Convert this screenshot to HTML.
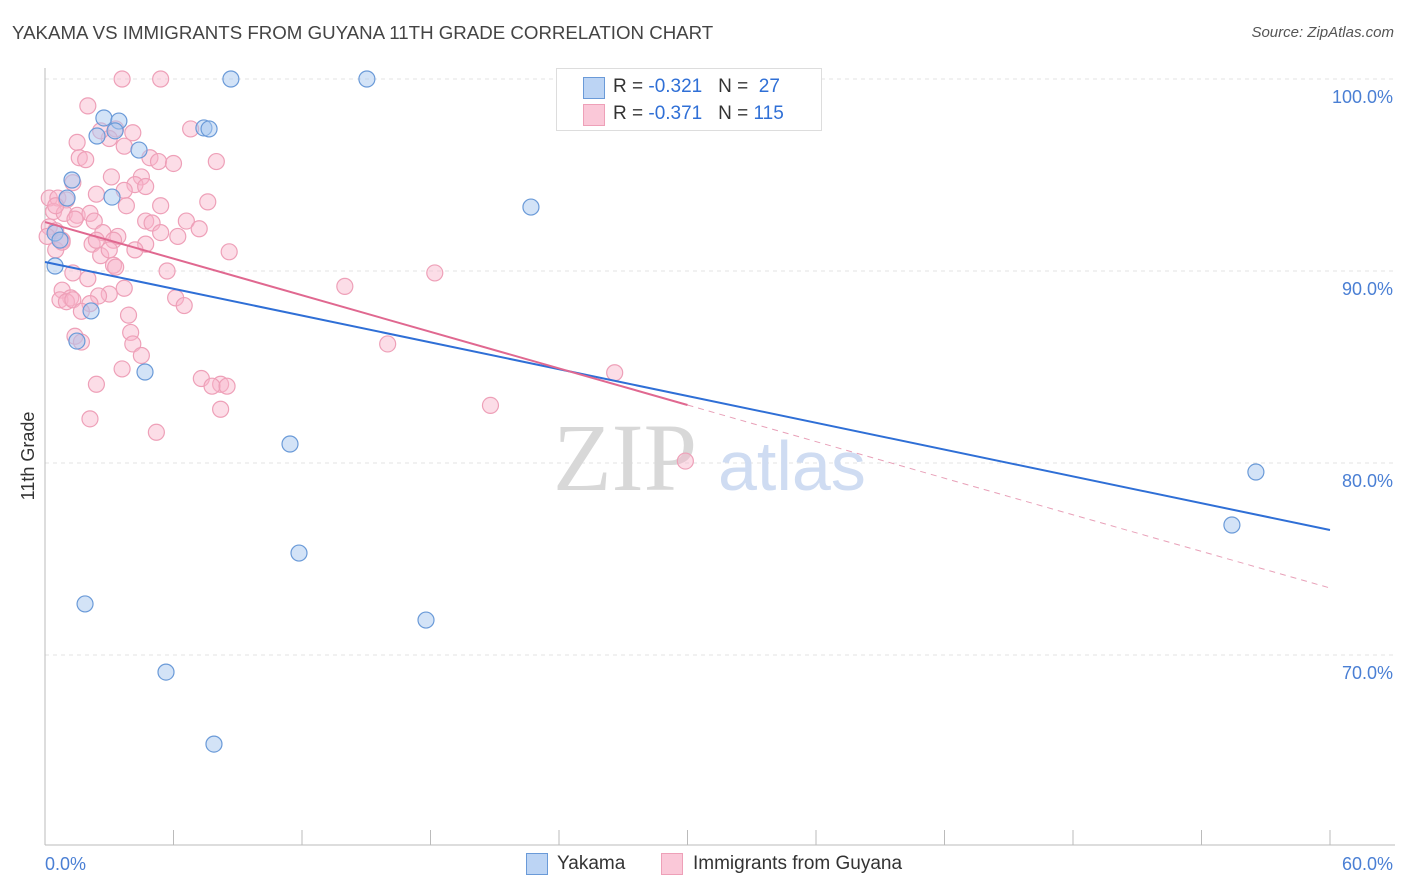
<!DOCTYPE html>
<html><head><meta charset="utf-8"><style>
body{margin:0;background:#fff;font-family:"Liberation Sans",sans-serif;}
#wrap{position:relative;width:1406px;height:892px;overflow:hidden;}
.t{position:absolute;white-space:nowrap;}
</style></head><body>
<div id="wrap">
<div class="t" style="left:12px;top:22px;font-size:18.7px;color:#444;">YAKAMA VS IMMIGRANTS FROM GUYANA 11TH GRADE CORRELATION CHART</div>
<div class="t" style="right:12px;top:24px;font-size:15px;color:#555;font-style:italic;">Source: ZipAtlas.com</div>
<svg id="svg" width="1406" height="892" style="position:absolute;left:0;top:0"></svg>
</div>
<script>
const yakamaX=[8.68,15.03,2.75,3.45,2.43,7.42,7.66,4.39,1.26,3.13,1.03,22.69,0.47,0.70,0.47,2.15,1.49,4.67,11.44,56.54,55.42,11.86,1.87,17.79,5.65,7.89,3.27];
const yakamaY=[100,100,97.97,97.81,97.03,97.45,97.40,96.30,94.74,93.85,93.80,93.33,91.98,91.61,90.26,87.92,86.35,84.74,80.99,79.53,76.77,75.31,72.66,71.82,69.11,65.36,97.3];
const guyanaX=[3.6,5.4,2.0,3.3,4.1,6.8,1.5,3.0,3.7,1.6,1.9,4.9,5.3,6.0,8.0,3.1,4.5,1.3,4.2,4.7,3.7,2.4,0.2,0.6,1.0,3.8,5.4,7.6,0.4,0.9,1.5,2.1,1.4,2.3,4.7,5.0,6.6,7.2,0.2,0.5,2.7,3.4,5.4,6.2,0.1,0.8,2.2,3.2,4.7,0.5,2.6,4.2,3.0,8.6,3.2,3.3,5.7,18.2,1.3,2.0,14.0,0.8,3.7,3.0,1.2,2.5,0.7,1.0,1.3,6.1,6.5,2.1,1.7,3.9,4.0,1.4,1.7,4.1,16.0,4.5,26.6,3.6,7.3,8.2,7.8,8.5,2.4,20.8,8.2,2.1,5.2,29.9,2.4,0.8,0.5,2.6];
const guyanaY=[100,100,98.6,97.4,97.2,97.4,96.7,96.9,96.5,95.9,95.8,95.9,95.7,95.6,95.7,94.9,94.9,94.6,94.5,94.4,94.2,94.0,93.8,93.8,93.7,93.4,93.4,93.6,93.1,93.0,92.9,93.0,92.7,92.6,92.6,92.5,92.6,92.2,92.3,92.1,92.0,91.8,92.0,91.8,91.8,91.6,91.4,91.6,91.4,91.1,90.8,91.1,91.1,91.0,90.3,90.2,90.0,89.9,89.9,89.6,89.2,89.0,89.1,88.8,88.6,88.7,88.5,88.4,88.5,88.6,88.2,88.3,87.9,87.7,86.8,86.6,86.3,86.2,86.2,85.6,84.7,84.9,84.4,84.1,84.0,84.0,84.1,83.0,82.8,82.3,81.6,80.1,91.6,91.5,93.4,97.3];
const yTicks=[100,90,80,70];
const yTickLabels=["100.0%","90.0%","80.0%","70.0%"];
const blueTrend=[90.47,76.51];
const pinkTrend=[92.55,73.49];
const pinkSolidEnd=30;

const X=v=>45+v*(1285/60);
const Y=v=>79+(100-v)*19.2;
const svg=document.getElementById('svg');
const NS='http://www.w3.org/2000/svg';
function mk(tag,attrs){const e=document.createElementNS(NS,tag);for(const k in attrs)e.setAttribute(k,attrs[k]);svg.appendChild(e);return e;}

yTicks.forEach((t,i)=>{
  const g=mk('line',{x1:45,x2:1395,y1:Y(t),y2:Y(t),stroke:'#e3e3e3','stroke-dasharray':'4,4'});
  
  
  const l=mk('text',{x:1393,y:Y(t)+24,'text-anchor':'end','font-size':18,fill:'#4a7fd4','font-family':'Liberation Sans'});
  l.textContent=yTickLabels[i];
  
  
});
const ax=mk('line',{x1:45,x2:1395,y1:845,y2:845,stroke:'#bbb'});


const ay=mk('line',{x1:45,x2:45,y1:68,y2:845,stroke:'#bbb'});


for(let i=0;i<=10;i++){
  const tk=mk('line',{x1:X(i*6),x2:X(i*6),y1:830,y2:845,stroke:'#bbb'});
  
  
}
[['0.0%',45,'start'],['60.0%',1393,'end']].forEach(a=>{
  const t=mk('text',{x:a[1],y:870,'text-anchor':a[2],'font-size':18,fill:'#4a7fd4','font-family':'Liberation Sans'});
  t.textContent=a[0];
  
  
});
const yt=mk('text',{x:34,y:456,'text-anchor':'middle','font-size':18,fill:'#333','font-family':'Liberation Sans',transform:'rotate(-90 34 456)'});
yt.textContent='11th Grade';


const w1=mk('text',{x:553,y:490,'font-size':96,fill:'#d8d8d8','font-family':'Liberation Serif'});
w1.textContent='ZIP';


const w2=mk('text',{x:718,y:490,'font-size':70,fill:'#cfdcf2','font-family':'Liberation Sans'});
w2.textContent='atlas';



guyanaX.forEach((v,i)=>{
  const c=mk('circle',{cx:X(v),cy:Y(guyanaY[i]),r:8,fill:'rgba(248,180,202,0.45)',stroke:'#eea0b8','stroke-width':1.2});
  
  
});
yakamaX.forEach((v,i)=>{
  const c=mk('circle',{cx:X(v),cy:Y(yakamaY[i]),r:8,fill:'rgba(168,200,240,0.5)',stroke:'#6a9ad8','stroke-width':1.2});
  
  
});
const bl=mk('line',{x1:X(0),y1:Y(blueTrend[0]),x2:X(60),y2:Y(blueTrend[1]),stroke:'#2f6fd6','stroke-width':2});


const pm=pinkTrend[0]+(pinkTrend[1]-pinkTrend[0])*pinkSolidEnd/60;
const pl=mk('line',{x1:X(0),y1:Y(pinkTrend[0]),x2:X(pinkSolidEnd),y2:Y(pm),stroke:'#e06890','stroke-width':2});


const pd=mk('line',{x1:X(pinkSolidEnd),y1:Y(pm),x2:X(60),y2:Y(pinkTrend[1]),stroke:'#e8a0b8','stroke-width':1,'stroke-dasharray':'6,5'});


</script>
<div class="t" style="left:556px;top:68px;width:264px;height:61px;border:1px solid #ddd;background:#fff;">
  <div class="t" style="left:26px;top:8px;width:20px;height:20px;background:#bcd4f4;border:1px solid #6a9ad8;"></div>
  <div class="t" style="left:56px;top:7px;font-size:19px;color:#333;">R = <span style="color:#2f6fd6">-0.321</span>&nbsp;&nbsp;&nbsp;N = &nbsp;<span style="color:#2f6fd6">27</span></div>
  <div class="t" style="left:26px;top:35px;width:20px;height:20px;background:#fac8d8;border:1px solid #eea0b8;"></div>
  <div class="t" style="left:56px;top:34px;font-size:19px;color:#333;">R = <span style="color:#2f6fd6">-0.371</span>&nbsp;&nbsp;&nbsp;N = <span style="color:#2f6fd6">115</span></div>
</div>
<div class="t" style="left:526px;top:853px;width:20px;height:20px;background:#bcd4f4;border:1px solid #6a9ad8;"></div>
<div class="t" style="left:557px;top:853px;font-size:19px;color:#333;">Yakama</div>
<div class="t" style="left:661px;top:853px;width:20px;height:20px;background:#fac8d8;border:1px solid #eea0b8;"></div>
<div class="t" style="left:693px;top:853px;font-size:19px;color:#333;">Immigrants from Guyana</div>
</body></html>
